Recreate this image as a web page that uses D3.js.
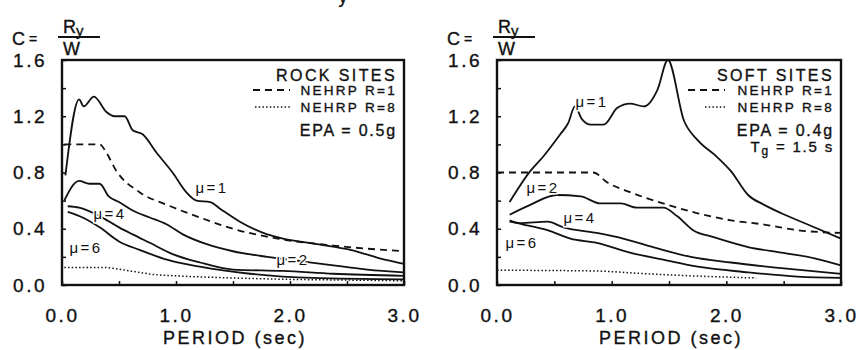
<!DOCTYPE html>
<html>
<head>
<meta charset="utf-8">
<script src="https://cdn.jsdelivr.net/npm/d3@7"></script>
<style>
  body { margin: 0; background: #fff; }
  svg text { font-family: "Liberation Sans", Arial, sans-serif; fill: #111; stroke: #111; stroke-width: 0.35px; }
</style>
</head>
<body>
<div id="chart"></div>
<script>
// tick values / labels
const yTicks = [0, 0.2, 0.4, 0.6, 0.8, 1.0, 1.2, 1.4, 1.6];
const yLabels = [0, 0.4, 0.8, 1.2, 1.6];
const xTicks = [0, 0.5, 1, 1.5, 2, 2.5, 3];
const xLabels = [0, 1, 2, 3];

// ROCK SITES (EPA = 0.5g)
const rockMu1T = [0.03, 0.15, 0.19, 0.28, 0.39, 0.46, 0.55, 0.62, 0.71, 0.83, 0.97, 1.09, 1.18, 1.30, 1.39, 1.56, 1.80, 1.94, 2.24, 2.53, 2.83, 3.0];
const rockMu1C = [0.78, 1.32, 1.27, 1.34, 1.23, 1.20, 1.20, 1.10, 1.07, 0.94, 0.80, 0.66, 0.60, 0.59, 0.54, 0.45, 0.36, 0.33, 0.29, 0.25, 0.18, 0.15];
const rockMu2T = [0.02, 0.15, 0.24, 0.33, 0.41, 0.50, 0.62, 0.77, 0.92, 1.06, 1.27, 1.50, 1.80, 2.09, 2.38, 2.68, 3.0];
const rockMu2C = [0.60, 0.74, 0.72, 0.72, 0.63, 0.59, 0.53, 0.48, 0.43, 0.36, 0.29, 0.24, 0.20, 0.17, 0.14, 0.11, 0.09];
const rockMu4T = [0.05, 0.15, 0.33, 0.50, 0.62, 0.77, 0.97, 1.21, 1.50, 1.94, 2.38, 3.0];
const rockMu4C = [0.56, 0.55, 0.49, 0.41, 0.36, 0.30, 0.22, 0.16, 0.11, 0.10, 0.08, 0.065];
const rockMu6T = [0.05, 0.18, 0.33, 0.50, 0.68, 0.92, 1.21, 1.65, 2.2, 3.0];
const rockMu6C = [0.52, 0.48, 0.41, 0.31, 0.25, 0.18, 0.13, 0.08, 0.05, 0.04];
const rockR1T = [0.02, 0.33, 0.39, 0.47, 0.68, 0.92, 1.21, 1.50, 1.89, 2.38, 3.0];
const rockR1C = [1.0, 1.0, 0.94, 0.82, 0.66, 0.57, 0.48, 0.40, 0.33, 0.28, 0.24];
const rockR8T = [0.02, 0.35, 0.6, 0.8, 1.0, 1.5, 2.0, 2.5, 3.0];
const rockR8C = [0.125, 0.125, 0.10, 0.075, 0.065, 0.05, 0.04, 0.035, 0.03];

// SOFT SITES (EPA = 0.4g, Tg = 1.5 s)
const softMu1T = [0.11, 0.29, 0.40, 0.55, 0.62, 0.68, 0.74, 0.82, 0.93, 1.05, 1.16, 1.28, 1.40, 1.49, 1.63, 1.75, 1.92, 2.04, 2.19, 2.33, 2.48, 2.71, 3.0];
const softMu1C = [0.59, 0.81, 0.91, 1.07, 1.15, 1.27, 1.18, 1.14, 1.14, 1.26, 1.29, 1.27, 1.39, 1.60, 1.17, 1.03, 0.91, 0.81, 0.64, 0.57, 0.51, 0.43, 0.33];
const softMu2T = [0.11, 0.29, 0.52, 0.73, 0.90, 1.08, 1.22, 1.45, 1.57, 1.71, 1.89, 2.19, 2.48, 2.77, 3.0];
const softMu2C = [0.50, 0.57, 0.64, 0.63, 0.58, 0.58, 0.55, 0.55, 0.49, 0.39, 0.34, 0.27, 0.23, 0.19, 0.14];
const softMu4T = [0.11, 0.2, 0.44, 0.58, 0.87, 1.10, 1.40, 1.69, 2.04, 2.48, 3.0];
const softMu4C = [0.46, 0.44, 0.45, 0.41, 0.37, 0.33, 0.26, 0.20, 0.16, 0.12, 0.08];
const softMu6T = [0.11, 0.23, 0.44, 0.64, 0.87, 1.16, 1.45, 1.75, 2.19, 2.62, 3.0];
const softMu6C = [0.45, 0.43, 0.39, 0.33, 0.30, 0.23, 0.18, 0.13, 0.09, 0.06, 0.05];
const softR1T = [0.0, 0.84, 0.96, 1.16, 1.45, 1.75, 2.04, 2.33, 2.62, 3.0];
const softR1C = [0.8, 0.8, 0.73, 0.66, 0.58, 0.51, 0.46, 0.43, 0.39, 0.37];
const softR8T = [0.0, 0.84, 1.3, 1.7, 2.26];
const softR8C = [0.105, 0.10, 0.08, 0.065, 0.05];

const zip = (t, c) => t.map((d, i) => ({ t: d, c: c[i] }));

const panels = [
  {
    left: 62, right: 404,
    site: "ROCK SITES", epa: "EPA = 0.5g", tg: false,
    curves: [zip(rockMu1T, rockMu1C), zip(rockMu2T, rockMu2C), zip(rockMu4T, rockMu4C), zip(rockMu6T, rockMu6C)],
    r1: zip(rockR1T, rockR1C), r8: zip(rockR8T, rockR8C),
    muLabels: [
      { text: "μ=1", x: 212, y: 193 },
      { text: "μ=4", x: 110, y: 219 },
      { text: "μ=6", x: 86, y: 253 },
      { text: "μ=2", x: 293, y: 265 }
    ],
    sampleR1: [253, 290], sampleR8: [255, 290]
  },
  {
    left: 497, right: 841,
    site: "SOFT SITES", epa: "EPA = 0.4g", tg: true,
    curves: [zip(softMu1T, softMu1C), zip(softMu2T, softMu2C), zip(softMu4T, softMu4C), zip(softMu6T, softMu6C)],
    r1: zip(softR1T, softR1C), r8: zip(softR8T, softR8C),
    muLabels: [
      { text: "μ=1", x: 592, y: 107 },
      { text: "μ=2", x: 543, y: 193 },
      { text: "μ=4", x: 580, y: 223 },
      { text: "μ=6", x: 522, y: 248 }
    ],
    sampleR1: [688, 725], sampleR8: [705, 725]
  }
];

const W = 861, H = 350;
const plotTop = 60, plotBottom = 285;

const svg = d3.select("#chart")
  .append("svg")
  .attr("width", W)
  .attr("height", H);

// clipped fragment of a line above the figure
svg.append("text")
  .attr("x", 343).attr("y", 3)
  .attr("text-anchor", "middle")
  .style("font-size", "18px")
  .text("y");

panels.forEach(p => {
  const x = d3.scaleLinear().domain([0, 3]).range([p.left, p.right]);
  const y = d3.scaleLinear().domain([0, 1.6]).range([plotBottom, plotTop]);
  const g = svg.append("g");

  // C = Ry / W
  const fx = p.left;
  g.append("text").attr("x", fx - 50).attr("y", 45)
    .style("font-size", "18px").text("C");
  g.append("text").attr("x", fx - 33).attr("y", 44)
    .style("font-size", "14px").text("=");
  const r = g.append("text").attr("x", fx + 1).attr("y", 33)
    .style("font-size", "18px");
  r.append("tspan").text("R");
  r.append("tspan").attr("dy", 3).style("font-size", "15px").text("y");
  g.append("line")
    .attr("x1", fx - 4).attr("x2", fx + 38)
    .attr("y1", 37).attr("y2", 37)
    .attr("stroke", "#111").attr("stroke-width", 1.8);
  g.append("text").attr("x", fx + 1).attr("y", 55)
    .style("font-size", "18px").text("W");

  // axes with inward ticks
  const yAxis = g.append("g")
    .attr("transform", `translate(${p.left},0)`)
    .call(d3.axisLeft(y).tickValues(yTicks).tickSizeInner(-4).tickSizeOuter(0).tickPadding(15)
      .tickFormat(d => yLabels.some(v => Math.abs(v - d) < 1e-6) ? d3.format(".1f")(d) : ""));
  const xAxis = g.append("g")
    .attr("transform", `translate(0,${plotBottom})`)
    .call(d3.axisBottom(x).tickValues(xTicks).tickSizeInner(-4).tickSizeOuter(0).tickPadding(24)
      .tickFormat(d => xLabels.includes(d) ? d3.format(".1f")(d) : ""));
  [yAxis, xAxis].forEach(a => {
    a.select(".domain").remove();
    a.selectAll("line").attr("stroke", "#111").attr("stroke-width", 1.5);
    a.selectAll("text")
      .attr("fill", "#111")
      .style("font-family", "\"Liberation Sans\", Arial, sans-serif")
      .style("font-size", "19px")
      .style("letter-spacing", "2.5px");
  });

  g.append("text")
    .attr("x", x(1.5) + 2).attr("y", 344)
    .attr("text-anchor", "middle")
    .style("font-size", "18px")
    .style("letter-spacing", "2.5px")
    .text("PERIOD (sec)");

  const line = d3.line()
    .x(d => x(d.t))
    .y(d => y(d.c))
    .curve(d3.curveMonotoneX);

  // code curves
  g.append("path").datum(p.r1)
    .attr("fill", "none").attr("stroke", "#111").attr("stroke-width", 1.8)
    .attr("stroke-dasharray", "7,5")
    .attr("d", line);
  g.append("path").datum(p.r8)
    .attr("fill", "none").attr("stroke", "#111").attr("stroke-width", 1.5)
    .attr("stroke-dasharray", "1.5,2.2")
    .attr("d", line);

  // ductility curves
  p.curves.forEach(c => {
    g.append("path").datum(c)
      .attr("fill", "none").attr("stroke", "#111").attr("stroke-width", 1.8)
      .attr("d", line);
  });

  // frame
  g.append("rect")
    .attr("x", p.left).attr("y", plotTop)
    .attr("width", p.right - p.left).attr("height", plotBottom - plotTop)
    .attr("fill", "none").attr("stroke", "#111").attr("stroke-width", 2.4);

  // mu labels
  p.muLabels.forEach(m => {
    g.append("text")
      .attr("x", m.x).attr("y", m.y)
      .attr("text-anchor", "middle")
      .style("font-size", "15px")
      .style("letter-spacing", "2.5px")
      .style("stroke", "#fff").style("stroke-width", "3px")
      .attr("paint-order", "stroke")
      .text(m.text);
  });

  // legend block
  const lx = p.right - 7;
  g.append("text").attr("x", lx).attr("y", 81)
    .attr("text-anchor", "end")
    .style("font-size", "16px").style("letter-spacing", "2.4px")
    .text(p.site);
  g.append("text").attr("x", lx).attr("y", 95)
    .attr("text-anchor", "end")
    .style("font-size", "13.5px").style("letter-spacing", "2.3px")
    .text("NEHRP R=1");
  g.append("text").attr("x", lx).attr("y", 112)
    .attr("text-anchor", "end")
    .style("font-size", "13.5px").style("letter-spacing", "2.3px")
    .text("NEHRP R=8");
  g.append("line")
    .attr("x1", p.sampleR1[0]).attr("x2", p.sampleR1[1])
    .attr("y1", 90).attr("y2", 90)
    .attr("stroke", "#111").attr("stroke-width", 1.8)
    .attr("stroke-dasharray", "7,5");
  g.append("line")
    .attr("x1", p.sampleR8[0]).attr("x2", p.sampleR8[1])
    .attr("y1", 107).attr("y2", 107)
    .attr("stroke", "#111").attr("stroke-width", 1.5)
    .attr("stroke-dasharray", "1.5,2.2");
  g.append("text").attr("x", lx).attr("y", 136)
    .attr("text-anchor", "end")
    .style("font-size", "16px").style("letter-spacing", "1.8px")
    .text(p.epa);
  if (p.tg) {
    const t = g.append("text").attr("x", lx).attr("y", 152)
      .attr("text-anchor", "end")
      .style("font-size", "15px").style("letter-spacing", "1.8px");
    t.append("tspan").text("T");
    t.append("tspan").attr("dy", 3).style("font-size", "12px").text("g");
    t.append("tspan").attr("dy", -3).text(" = 1.5 s");
  }
});
</script>
</body>
</html>
